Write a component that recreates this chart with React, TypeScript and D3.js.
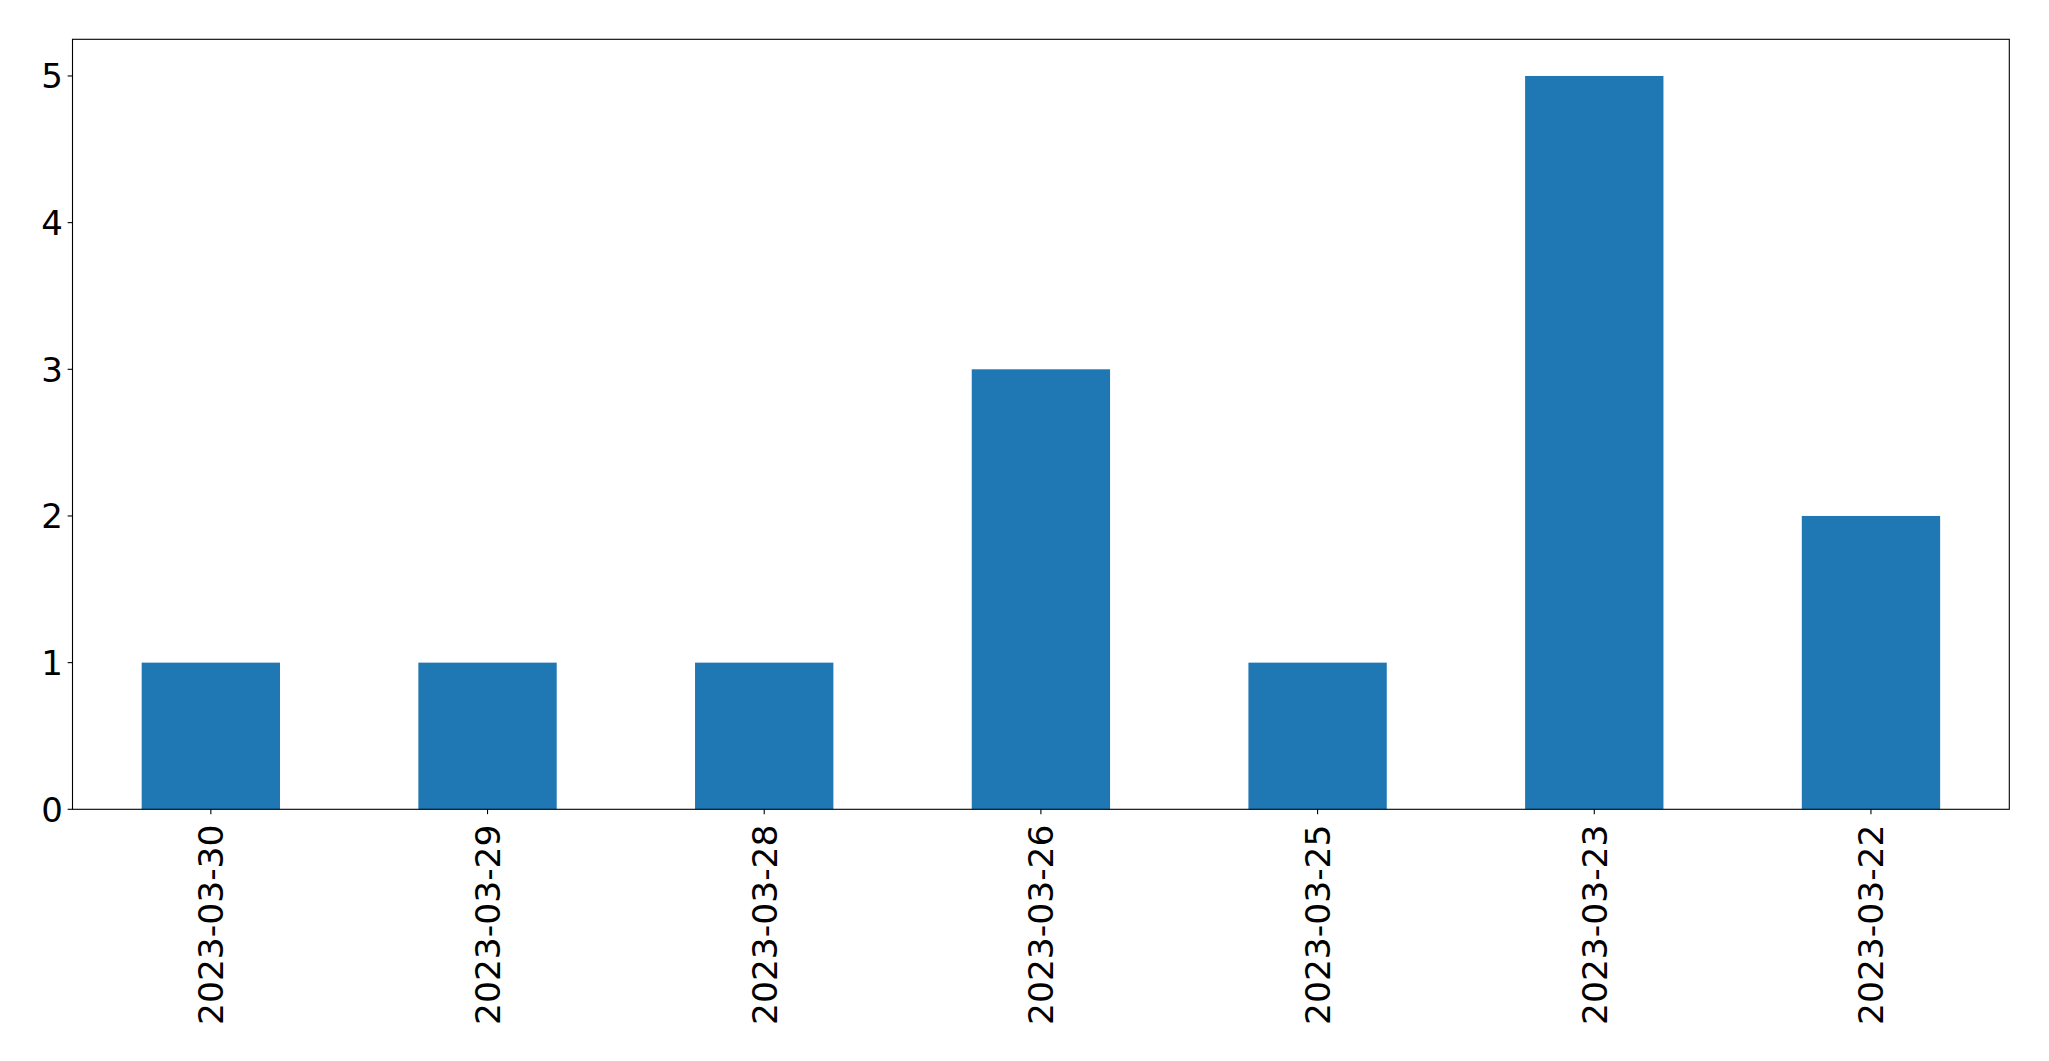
import React from "react";
import * as d3 from "d3";

const categories = ["2023-03-30", "2023-03-29", "2023-03-28", "2023-03-26", "2023-03-25", "2023-03-23", "2023-03-22"];
const values = [1, 1, 1, 3, 1, 5, 2];
const yTicks = [0, 1, 2, 3, 4, 5];

const W = 2049;
const H = 1061;
const left = 72.5;
const right = 2009.3;
const top = 39.3;
const bottom = 809.3;
const font = "'DejaVu Sans', sans-serif";
const yFontSize = 34;
const xFontSize = 34.5;
const tickLen = 4.86;
const pad = 4.86;

export default function App() {
  const x = d3.scaleLinear().domain([-0.5, categories.length - 0.5]).range([left, right]);
  const y = d3.scaleLinear().domain([0, 5.25]).range([bottom, top]);
  const barW = x(0.5) - x(0);

  return (
    <div style={{ position: "absolute", left: 0, top: 0 }}>
      <svg width={W} height={H} style={{ display: "block", background: "#fff" }}>
        {values.map((v, i) => (
          <rect key={i} x={x(i) - barW / 2} y={y(v)} width={barW} height={y(0) - y(v)} fill="#1f77b4" />
        ))}
        <rect x={left} y={top} width={right - left} height={bottom - top} fill="none" stroke="#000" strokeWidth={1.1} />
        {yTicks.map((t) => (
          <g key={t}>
            <line x1={left - tickLen} x2={left} y1={y(t)} y2={y(t)} stroke="#000" strokeWidth={1.1} />
            <text x={left - tickLen - pad} y={y(t)} dy="0.36em" textAnchor="end" fontFamily={font} fontSize={yFontSize} fill="#000">
              {t}
            </text>
          </g>
        ))}
        {categories.map((c, i) => (
          <g key={c}>
            <line x1={x(i)} x2={x(i)} y1={bottom} y2={bottom + tickLen} stroke="#000" strokeWidth={1.1} />
            <text
              transform={`translate(${x(i)},${bottom + 15.2}) rotate(-90)`}
              textAnchor="end"
              dy="0.36em"
              fontFamily={font}
              fontSize={xFontSize}
              fill="#000"
            >
              {c}
            </text>
          </g>
        ))}
      </svg>
    </div>
  );
}
